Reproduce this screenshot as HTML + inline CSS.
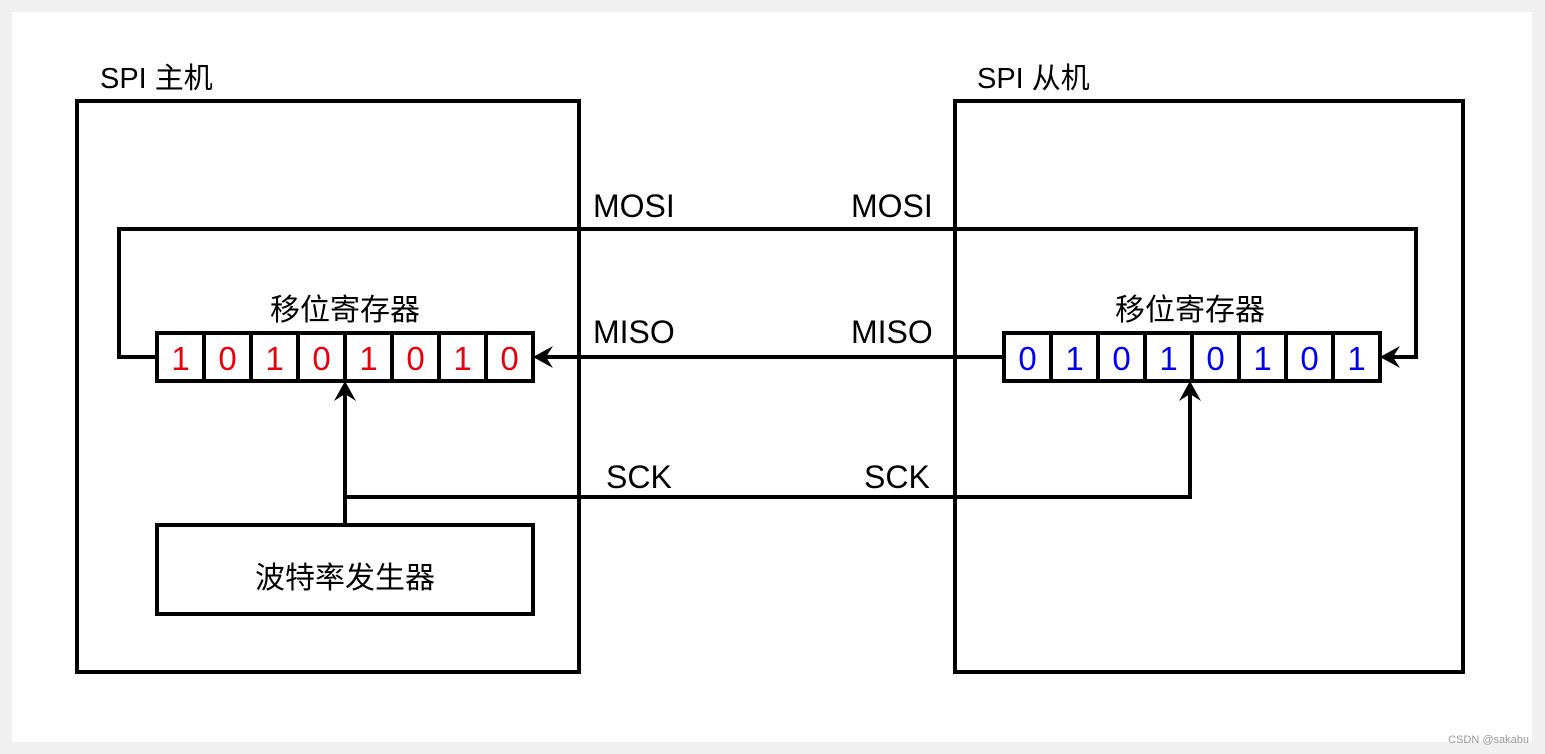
<!DOCTYPE html>
<html><head><meta charset="utf-8"><style>
html,body{margin:0;padding:0;background:#f0f0f0;}
svg{display:block;}
text{font-family:"Liberation Sans","Noto Sans CJK SC",sans-serif;}
</style></head><body>
<svg width="1545" height="754" viewBox="0 0 1545 754" xmlns="http://www.w3.org/2000/svg">
<rect x="0" y="0" width="1545" height="754" fill="#f0f0f0"/>
<rect x="12" y="12" width="1520" height="730" fill="#fff"/>
<g fill="none" stroke="#000" stroke-width="4">
<rect x="77" y="101" width="502" height="571"/>
<rect x="955" y="101" width="508" height="571"/>
<rect x="157" y="525" width="376" height="89"/>
<!-- MOSI -->
<polyline points="157,357 119,357 119,229 1416,229 1416,357 1392,357"/>
<!-- MISO -->
<line x1="1004" y1="357" x2="545" y2="357"/>
<!-- SCK -->
<polyline points="345,525 345,393"/>
<polyline points="345,497 1190,497 1190,393"/>
<!-- registers -->
<rect x="157" y="333" width="376" height="48" fill="#fff"/>
<rect x="1004" y="333" width="376" height="48" fill="#fff"/>
<path d="M204,333v48M251,333v48M298,333v48M345,333v48M392,333v48M439,333v48M486,333v48"/>
<path d="M1051,333v48M1098,333v48M1145,333v48M1192,333v48M1239,333v48M1286,333v48M1333,333v48"/>
</g>
<g fill="#000">
<path d="M533,357 L553,346 L546,357 L553,368 Z"/>
<path d="M1380,357 L1400,346 L1393,357 L1400,368 Z"/>
<path d="M345,381 L334,401 L345,394 L356,401 Z"/>
<path d="M1190,381 L1179,401 L1190,394 L1201,401 Z"/>
</g>
<g font-size="29" fill="#000">
<text x="100" y="88">SPI 主机</text>
<text x="977" y="88">SPI 从机</text>
</g>
<g font-size="32" fill="#000">
<text x="593" y="217">MOSI</text>
<text x="851" y="217">MOSI</text>
<text x="593" y="343">MISO</text>
<text x="851" y="343">MISO</text>
<text x="606" y="488">SCK</text>
<text x="864" y="488">SCK</text>
</g>
<g font-size="30" fill="#000" text-anchor="middle">
<text x="345" y="320">移位寄存器</text>
<text x="1190" y="320">移位寄存器</text>
<text x="345" y="588">波特率发生器</text>
</g>
<g font-size="33" fill="#e8000b" text-anchor="middle">
<text x="180.5" y="370">1</text><text x="227.5" y="370">0</text><text x="274.5" y="370">1</text><text x="321.5" y="370">0</text>
<text x="368.5" y="370">1</text><text x="415.5" y="370">0</text><text x="462.5" y="370">1</text><text x="509.5" y="370">0</text>
</g>
<g font-size="33" fill="#0000ee" text-anchor="middle">
<text x="1027.5" y="370">0</text><text x="1074.5" y="370">1</text><text x="1121.5" y="370">0</text><text x="1168.5" y="370">1</text>
<text x="1215.5" y="370">0</text><text x="1262.5" y="370">1</text><text x="1309.5" y="370">0</text><text x="1356.5" y="370">1</text>
</g>
<text x="1529" y="743" font-size="11" fill="#999" text-anchor="end">CSDN @sakabu</text>
</svg>
</body></html>
